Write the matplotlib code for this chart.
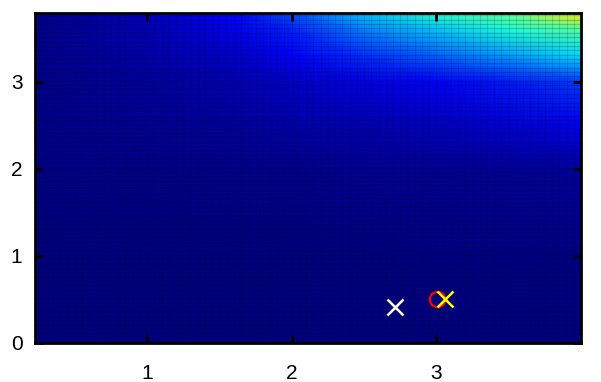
import numpy as np
import matplotlib
matplotlib.use('Agg')
import matplotlib.pyplot as plt

plt.rcParams['font.family'] = ['Liberation Sans', 'DejaVu Sans']

# Valores (fração da escala jet, 0..1) em uma grade grossa
x_nos = [0.225, 1.0, 1.6, 2.0, 2.5, 3.0, 3.5, 4.0]
y_nos = [0.0, 1.0, 2.0, 2.5, 3.0, 3.3, 3.6, 3.79]
z_linhas = [
    [0.000, 0.000, 0.000, 0.000, 0.000, 0.000, 0.000, 0.000],
    [0.000, 0.000, 0.000, 0.000, 0.000, 0.005, 0.005, 0.005],
    [0.010, 0.010, 0.015, 0.015, 0.020, 0.020, 0.025, 0.030],
    [0.015, 0.020, 0.030, 0.040, 0.050, 0.060, 0.080, 0.100],
    [0.015, 0.030, 0.050, 0.070, 0.090, 0.120, 0.150, 0.180],
    [0.015, 0.040, 0.070, 0.110, 0.170, 0.220, 0.280, 0.340],
    [0.015, 0.050, 0.100, 0.160, 0.250, 0.320, 0.380, 0.450],
    [0.015, 0.060, 0.120, 0.210, 0.320, 0.400, 0.470, 0.660],
]

# Marcadores
x_branco, y_branco = [2.716], [0.414]
x_circulo, y_circulo = [3.007], [0.506]
x_amarelo, y_amarelo = [3.06], [0.506]

fig = plt.figure(figsize=(6.01, 3.82), dpi=100)
ax = fig.add_axes([35 / 601, 1 - 343 / 382, 546 / 601, 330 / 382])

X, Y = np.meshgrid(x_nos, y_nos)
ax.pcolormesh(X, Y, np.array(z_linhas), cmap='jet', vmin=0, vmax=1, shading='gouraud')

# textura da grade de células
passo = 0.05
ax.vlines(np.arange(0.2, 4.0, passo), 0, 3.8, colors='black', alpha=0.15, linewidth=0.7, zorder=2)
ax.hlines(np.arange(0.0, 3.8, passo) + 0.012, 0.2, 4.0, colors='black', alpha=0.2, linewidth=1.0, zorder=2)

ax.plot(x_branco, y_branco, 'x', color='white', markersize=11, markeredgewidth=1.8, zorder=3)
ax.plot(x_circulo, y_circulo, 'o', markerfacecolor='none', markeredgecolor='red', markersize=11, markeredgewidth=1.6, zorder=3)
ax.plot(x_amarelo, y_amarelo, 'x', color='yellow', markersize=11, markeredgewidth=1.8, zorder=3)

ax.set_xlim(0.225, 4.0)
ax.set_ylim(0, 3.79)
ax.set_xticks([1, 2, 3])
ax.set_yticks([0, 1, 2, 3])
ax.set_xticklabels(['1', '2', '3'], fontsize=15)
ax.set_yticklabels(['0', '1', '2', '3'], fontsize=15)
ax.tick_params(axis='both', direction='in', length=6, width=2,
               top=True, right=True, colors='black')
ax.tick_params(axis='x', pad=15)
ax.tick_params(axis='y', pad=9)
for s in ax.spines.values():
    s.set_linewidth(2)
    s.set_zorder(5)

fig.savefig('out.png', dpi=100)
